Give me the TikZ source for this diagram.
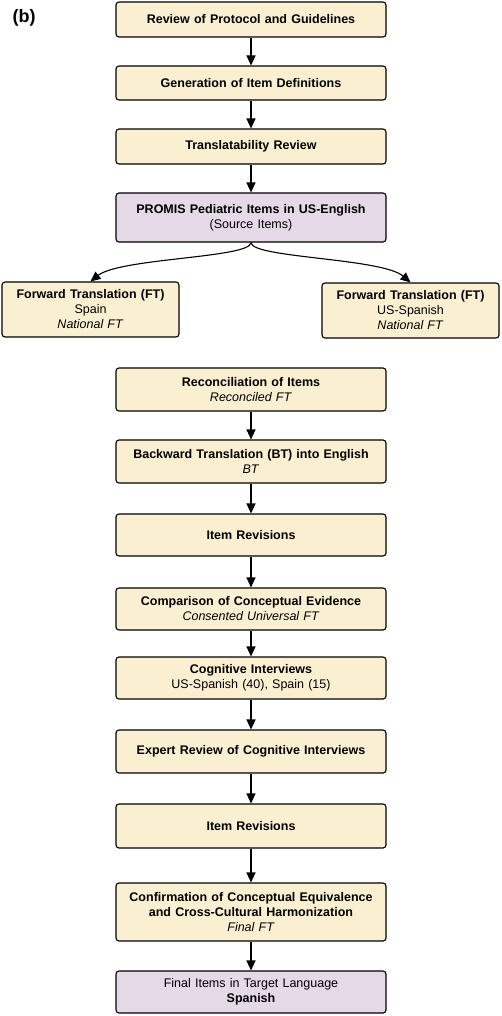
\documentclass[tikz,border=0pt]{standalone}
\usepackage{fontspec}
\setmainfont{Liberation Sans}
\usetikzlibrary{arrows.meta}
\definecolor{beige}{RGB}{250,240,209}
\definecolor{lilac}{RGB}{229,217,232}
\begin{document}
\begin{tikzpicture}[x=1pt,y=-1pt,
  box/.style={draw=black, line width=1.1pt, rounded corners=3pt, fill=beige, align=center,
    font=\fontsize{12.5}{15}\selectfont, inner sep=0pt, minimum width=270pt, text width=266pt},
  src/.style={box, fill=lilac},
  side/.style={box, minimum width=177pt, text width=173pt},
  arr/.style={-{Triangle[length=10pt,width=9pt]}, line width=1.1pt}]
\useasboundingbox (0,0) rectangle (501,1016);
\node[font=\bfseries\fontsize{18}{20}\selectfont] (lab) at (24,18) {(b)};
\node[box, minimum height=35pt] (n1) at (251,19.5) {\textbf{Review of Protocol and Guidelines}};
\node[box, minimum height=34pt] (n2) at (251,83) {\textbf{Generation of Item Definitions}};
\node[box, minimum height=35pt] (n3) at (251,146.5) {\textbf{Translatability Review}};
\node[src, minimum height=49pt] (n4) at (251,217.5) {\textbf{PROMIS Pediatric Items in US-English}\\(Source Items)};
\node[side, minimum height=55pt] (fl) at (90.5,309.5) {\textbf{Forward Translation (FT)}\\Spain\\\textit{National FT}};
\node[side, minimum height=55pt] (fr) at (410.5,310.5) {\textbf{Forward Translation (FT)}\\US-Spanish\\\textit{National FT}};
\node[box, minimum height=43pt] (n5) at (251,389.5) {\textbf{Reconciliation of Items}\\\textit{Reconciled FT}};
\node[box, minimum height=43pt] (n6) at (251,461.5) {\textbf{Backward Translation (BT) into English}\\\textit{BT}};
\node[box, minimum height=42pt] (n7) at (251,535) {\textbf{Item Revisions}};
\node[box, minimum height=42pt] (n8) at (251,609) {\textbf{Comparison of Conceptual Evidence}\\\textit{Consented Universal FT}};
\node[box, minimum height=42pt] (n9) at (251,678) {\textbf{Cognitive Interviews}\\US-Spanish (40), Spain (15)};
\node[box, minimum height=43pt] (n10) at (251,751.5) {\textbf{Expert Review of Cognitive Interviews}};
\node[box, minimum height=44pt] (n11) at (251,826) {\textbf{Item Revisions}};
\node[box, minimum height=58pt] (n12) at (251,912) {\textbf{Confirmation of Conceptual Equivalence}\\\textbf{and Cross-Cultural Harmonization}\\\textit{Final FT}};
\node[src, minimum height=42pt] (n13) at (251,992) {Final Items in Target Language\\\textbf{Spanish}};
\draw[arr] (n1) -- (n2);
\draw[arr] (n2) -- (n3);
\draw[arr] (n3) -- (n4);
\draw[arr] (n4.south) .. controls (251,258) and (120,258) .. (fl.north);
\draw[arr] (n4.south) .. controls (251,258) and (382,258) .. (fr.north);
\draw[arr] (n5) -- (n6);
\draw[arr] (n6) -- (n7);
\draw[arr] (n7) -- (n8);
\draw[arr] (n8) -- (n9);
\draw[arr] (n9) -- (n10);
\draw[arr] (n10) -- (n11);
\draw[arr] (n11) -- (n12);
\draw[arr] (n12) -- (n13);
\end{tikzpicture}
\end{document}
